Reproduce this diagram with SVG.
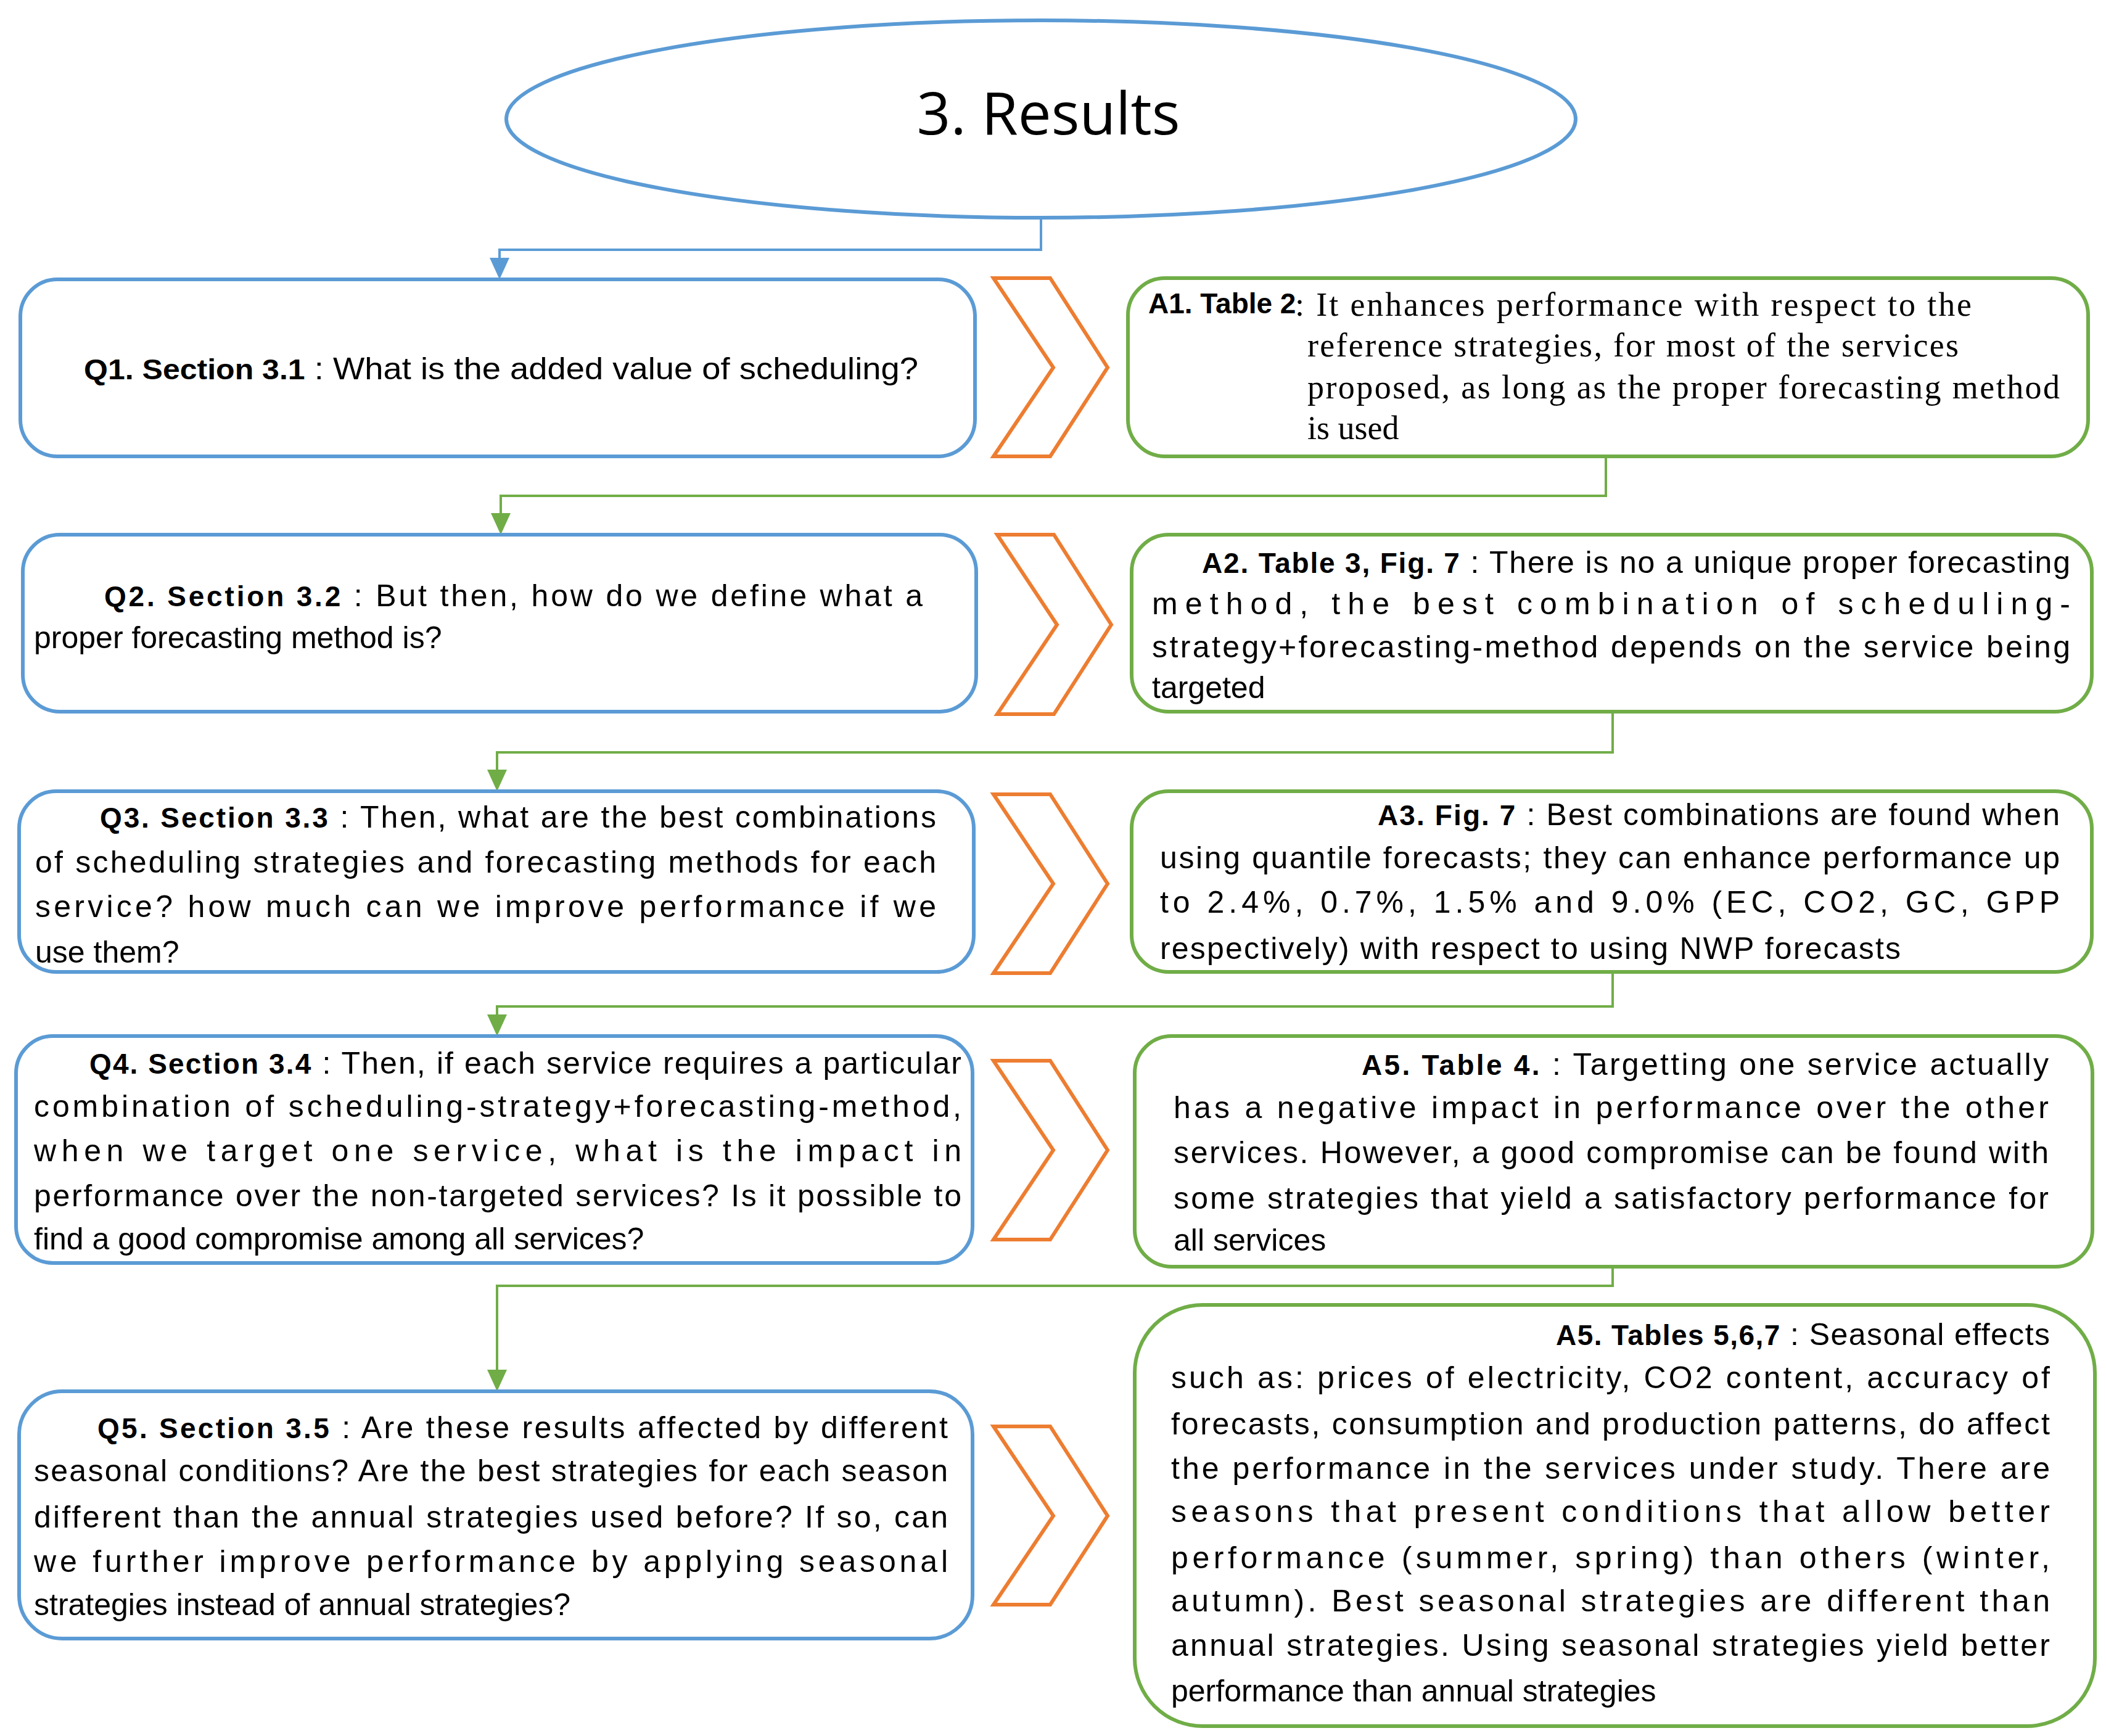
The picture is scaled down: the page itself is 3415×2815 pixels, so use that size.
<svg xmlns="http://www.w3.org/2000/svg" width="3415" height="2815" viewBox="0 0 3415 2815">
<style>
.q{fill:#fff;stroke:#5B9BD5;stroke-width:6}
.a{fill:#fff;stroke:#70AD47;stroke-width:6}
.ch{fill:#fff;stroke:#ED7D31;stroke-width:6}
.t{font-family:"Liberation Sans",Arial,sans-serif;font-size:50px;fill:#000}
.s{font-family:"Liberation Serif","Times New Roman",serif;font-size:54px;fill:#000}
.b{font-weight:bold;font-size:46px}
.cb{fill:none;stroke:#5B9BD5;stroke-width:4}
.cg{fill:none;stroke:#70AD47;stroke-width:4}
</style>
<defs>
<marker id="mb" viewBox="0 0 10 10" refX="10" refY="5" markerWidth="8" markerHeight="8" markerUnits="userSpaceOnUse" orient="auto"><path d="M0,0 L10,5 L0,10 z" fill="#5B9BD5"/></marker>
<marker id="mg" viewBox="0 0 10 10" refX="10" refY="5" markerWidth="8" markerHeight="8" markerUnits="userSpaceOnUse" orient="auto"><path d="M0,0 L10,5 L0,10 z" fill="#70AD47"/></marker>
</defs>
<rect width="3415" height="2815" fill="#fff"/>
<g id="connectors">
<path class="cb" d="M1688,353 V405 H810 V420"/><path d="M794,418 L826,418 L810,453 z" fill="#5B9BD5"/>
<path class="cg" d="M2604,740 V804 H812 V834"/><path d="M796,832 L828,832 L812,867 z" fill="#70AD47"/>
<path class="cg" d="M2615,1157 V1220 H806 V1250"/><path d="M790,1248 L822,1248 L806,1283 z" fill="#70AD47"/>
<path class="cg" d="M2615,1578 V1632 H806 V1647"/><path d="M790,1645 L822,1645 L806,1680 z" fill="#70AD47"/>
<path class="cg" d="M2615,2054 V2085 H806 V2223"/><path d="M790,2221 L822,2221 L806,2256 z" fill="#70AD47"/>
</g>
<g id="title">
<ellipse cx="1688" cy="193" rx="867" ry="160" fill="#fff" stroke="#5B9BD5" stroke-width="6"/>
<text x="1700" y="218" text-anchor="middle" font-family="'Open Sans','Liberation Sans',sans-serif" font-size="96">3. Results</text>
</g>
<g id="chevrons">
<polygon class="ch" points="1611,451 1703,451 1796,596 1703,740 1611,740 1708,596"/>
<polygon class="ch" points="1617,867 1709,867 1802,1013 1709,1158 1617,1158 1714,1013"/>
<polygon class="ch" points="1611,1288 1703,1288 1796,1433 1703,1578 1611,1578 1708,1433"/>
<polygon class="ch" points="1611,1720 1703,1720 1796,1865 1703,2010 1611,2010 1708,1865"/>
<polygon class="ch" points="1611,2313 1703,2313 1796,2458 1703,2602 1611,2602 1708,2458"/>
</g>
<g id="q1"><rect class="q" x="33" y="453" width="1548" height="287" rx="60"/>
<text class="t" x="136" y="615" textLength="1353" lengthAdjust="spacingAndGlyphs"><tspan class="b">Q1. Section 3.1</tspan>  : What is the added value of scheduling?</text></g>
<g id="q2"><rect class="q" x="37" y="867" width="1546" height="287" rx="60"/>
<text class="t" x="169" y="983" textLength="1327" lengthAdjust="spacing"><tspan class="b">Q2. Section 3.2</tspan> : But then, how do we define what a</text>
<text class="t" x="55" y="1051">proper forecasting method is?</text></g>
<g id="q3"><rect class="q" x="31" y="1283" width="1548" height="293" rx="60"/>
<text class="t" x="162" y="1342" textLength="1356" lengthAdjust="spacing"><tspan class="b">Q3. Section 3.3</tspan> : Then, what are the best combinations</text>
<text class="t" x="57" y="1415" textLength="1461" lengthAdjust="spacing">of scheduling strategies and forecasting methods for each</text>
<text class="t" x="57" y="1487" textLength="1461" lengthAdjust="spacing">service? how much can we improve performance if we</text>
<text class="t" x="57" y="1561">use them?</text></g>
<g id="q4"><rect class="q" x="26" y="1680" width="1551" height="368" rx="60"/>
<text class="t" x="145" y="1741" textLength="1414" lengthAdjust="spacing"><tspan class="b">Q4. Section 3.4</tspan> : Then, if each service requires a particular</text>
<text class="t" x="55" y="1811" textLength="1504" lengthAdjust="spacing">combination of scheduling-strategy+forecasting-method,</text>
<text class="t" x="55" y="1883" textLength="1504" lengthAdjust="spacing">when we target one service, what is the impact in</text>
<text class="t" x="55" y="1956" textLength="1504" lengthAdjust="spacing">performance over the non-targeted services? Is it possible to</text>
<text class="t" x="55" y="2026">find a good compromise among all services?</text></g>
<g id="q5"><rect class="q" x="31" y="2256" width="1546" height="401" rx="70"/>
<text class="t" x="158" y="2332" textLength="1379" lengthAdjust="spacing"><tspan class="b">Q5. Section 3.5</tspan> : Are these results affected by different</text>
<text class="t" x="55" y="2402" textLength="1482" lengthAdjust="spacing">seasonal conditions? Are the best strategies for each season</text>
<text class="t" x="55" y="2477" textLength="1482" lengthAdjust="spacing">different than the annual strategies used before? If so, can</text>
<text class="t" x="55" y="2549" textLength="1482" lengthAdjust="spacing">we further improve performance by applying seasonal</text>
<text class="t" x="55" y="2619">strategies instead of annual strategies?</text></g>
<g id="a1"><rect class="a" x="1829" y="451" width="1557" height="289" rx="60"/>
<text class="t b" x="1862" y="508">A1. Table 2</text>
<text class="s" x="2100" y="512" textLength="1097" lengthAdjust="spacing">: It enhances performance with respect to the</text>
<text class="s" x="2120" y="578" textLength="1056" lengthAdjust="spacing">reference strategies, for most of the services</text>
<text class="s" x="2120" y="646" textLength="1220" lengthAdjust="spacing">proposed, as long as the proper forecasting method</text>
<text class="s" x="2120" y="712">is used</text></g>
<g id="a2"><rect class="a" x="1835" y="867" width="1557" height="287" rx="60"/>
<text class="t" x="1949" y="929" textLength="1408" lengthAdjust="spacing"><tspan class="b">A2. Table 3, Fig. 7</tspan> : There is no a unique proper forecasting</text>
<text class="t" x="1868" y="996" textLength="1489" lengthAdjust="spacing">method, the best combination of scheduling-</text>
<text class="t" x="1868" y="1066" textLength="1489" lengthAdjust="spacing">strategy+forecasting-method depends on the service being</text>
<text class="t" x="1868" y="1132">targeted</text></g>
<g id="a3"><rect class="a" x="1835" y="1283" width="1557" height="293" rx="60"/>
<text class="t" x="2234" y="1338" textLength="1106" lengthAdjust="spacing"><tspan class="b">A3. Fig. 7</tspan> : Best combinations are found when</text>
<text class="t" x="1881" y="1408" textLength="1459" lengthAdjust="spacing">using quantile forecasts; they can enhance performance up</text>
<text class="t" x="1881" y="1480" textLength="1459" lengthAdjust="spacing">to 2.4%, 0.7%, 1.5% and 9.0% (EC, CO2, GC, GPP</text>
<text class="t" x="1881" y="1555" textLength="1201" lengthAdjust="spacing">respectively) with respect to using NWP forecasts</text></g>
<g id="a4"><rect class="a" x="1840" y="1680" width="1553" height="374" rx="60"/>
<text class="t" x="2208" y="1743" textLength="1114" lengthAdjust="spacing"><tspan class="b">A5. Table 4.</tspan> : Targetting one service actually</text>
<text class="t" x="1903" y="1813" textLength="1419" lengthAdjust="spacing">has a negative impact in performance over the other</text>
<text class="t" x="1903" y="1886" textLength="1419" lengthAdjust="spacing">services. However, a good compromise can be found with</text>
<text class="t" x="1903" y="1960" textLength="1419" lengthAdjust="spacing">some strategies that yield a satisfactory performance for</text>
<text class="t" x="1903" y="2028">all services</text></g>
<g id="a5"><rect class="a" x="1840" y="2116" width="1557" height="683" rx="110"/>
<text class="t" x="2523" y="2181" textLength="801" lengthAdjust="spacing"><tspan class="b">A5. Tables 5,6,7</tspan> : Seasonal effects</text>
<text class="t" x="1899" y="2251" textLength="1425" lengthAdjust="spacing">such as: prices of electricity, CO2 content, accuracy of</text>
<text class="t" x="1899" y="2326" textLength="1425" lengthAdjust="spacing">forecasts, consumption and production patterns, do affect</text>
<text class="t" x="1899" y="2398" textLength="1425" lengthAdjust="spacing">the performance in the services under study. There are</text>
<text class="t" x="1899" y="2468" textLength="1425" lengthAdjust="spacing">seasons that present conditions that allow better</text>
<text class="t" x="1899" y="2543" textLength="1425" lengthAdjust="spacing">performance (summer, spring) than others (winter,</text>
<text class="t" x="1899" y="2613" textLength="1425" lengthAdjust="spacing">autumn). Best seasonal strategies are different than</text>
<text class="t" x="1899" y="2685" textLength="1425" lengthAdjust="spacing">annual strategies. Using seasonal strategies yield better</text>
<text class="t" x="1899" y="2759">performance than annual strategies</text></g>
</svg>
